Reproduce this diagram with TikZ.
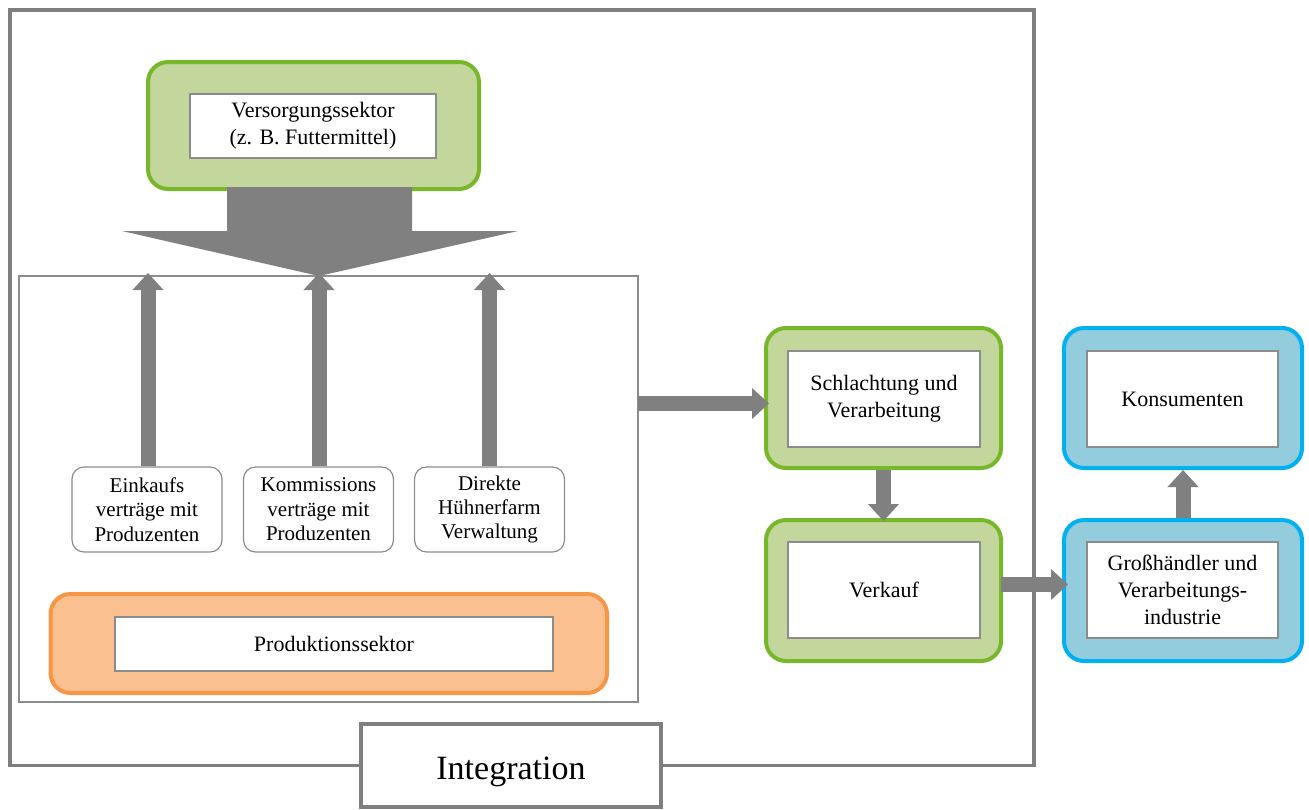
\documentclass[tikz,border=0pt]{standalone}
\usepackage{fontspec}
\setmainfont{Liberation Serif}
\usetikzlibrary{arrows.meta}
\definecolor{agray}{HTML}{808080}
\definecolor{frgray}{HTML}{7F7F7F}
\definecolor{lgray}{HTML}{8C8C8C}
\definecolor{gfill}{HTML}{C3D69B}
\definecolor{gline}{HTML}{77B82A}
\definecolor{ofill}{HTML}{FAC090}
\definecolor{oline}{HTML}{F79646}
\definecolor{bfill}{HTML}{93CDDD}
\definecolor{bline}{HTML}{00B0F0}
\begin{document}
\begin{tikzpicture}[x=0.5pt,y=-0.5pt,
  every node/.style={font=\fontsize{11}{13.5}\selectfont, inner sep=0pt, align=center},
  outerg/.style={draw=gline, fill=gfill, line width=2pt, rounded corners=10pt},
  outero/.style={draw=oline, fill=ofill, line width=2pt, rounded corners=10pt},
  outerb/.style={draw=bline, fill=bfill, line width=2pt, rounded corners=10pt},
  wbox/.style={draw=lgray, fill=white, line width=0.6pt},
  smallbox/.style={draw=lgray, fill=white, line width=0.6pt, rounded corners=6pt,
    minimum width=75pt, minimum height=42.5pt, font=\fontsize{10.5}{12.2}\selectfont},
  framel/.style={draw=frgray, line width=1.6pt},
  fatarrow/.style={draw=agray, line width=7.5pt, -{Triangle[width=15pt,length=8.5pt]}}
]
\useasboundingbox (0,0) rectangle (1309,809);

% Integration label box and outer frame
\node[draw=frgray, line width=1.6pt, fill=white, minimum width=150pt, minimum height=41.5pt,
  font=\fontsize{17}{20}\selectfont] (integ) at (511,765.5) {\raisebox{-7pt}[0pt][0pt]{Integration}};
\draw[framel] (integ.west) -- (10,765.5) -- (10,10) -- (1034,10) -- (1034,765.5) -- (integ.east);

% inner production area
\node[draw=lgray, line width=0.6pt, minimum width=309.5pt, minimum height=213pt] (area) at (328.5,489) {};

% Versorgungssektor
\node[outerg, minimum width=165.5pt, minimum height=63.5pt] (vo) at (313.5,125.5) {};
\node[wbox, minimum width=123pt, minimum height=32pt] (vs) at (313,126) {Versorgungssektor\\(z. B. Futtermittel)};
\fill[agray] (227,187) -- (412,187) -- (412,231) -- (518,231) -- (319,276) -- (122,231) -- (227,231) -- cycle;

% small boxes
\node[smallbox] (ek) at (147,509.5) {Einkaufs\\verträge mit\\Produzenten};
\node[smallbox] (ko) at (318.5,509.5) {Kommissions\\verträge mit\\Produzenten};
\node[smallbox] (di) at (489.5,509.5) {Direkte\\Hühnerfarm\\Verwaltung};
\coordinate (t1) at (148,273);
\coordinate (t2) at (319,273);
\coordinate (t3) at (489.5,273);
\draw[fatarrow] (ek.north -| t1) -- (t1);
\draw[fatarrow] (ko.north -| t2) -- (t2);
\draw[fatarrow] (di.north -| t3) -- (t3);

% Produktionssektor
\node[outero, minimum width=278.25pt, minimum height=49.5pt] (po) at (328.75,643.5) {};
\node[wbox, minimum width=219pt, minimum height=27pt] (ps) at (334,644) {Produktionssektor};

% right side
\node[outerg, minimum width=117.5pt, minimum height=70pt] (so) at (883.5,398) {};
\node[wbox, minimum width=96pt, minimum height=48pt] (sc) at (884,399) {Schlachtung und\\Verarbeitung};
\node[outerg, minimum width=117.5pt, minimum height=70.5pt] (vko) at (883.5,590.5) {};
\node[wbox, minimum width=96pt, minimum height=48pt] (vk) at (884,590) {Verkauf};
\node[outerb, minimum width=119pt, minimum height=70pt] (kno) at (1183,398) {};
\node[wbox, minimum width=95.5pt, minimum height=48pt] (kn) at (1182.5,399) {Konsumenten};
\node[outerb, minimum width=119pt, minimum height=70.5pt] (gho) at (1183,590.5) {};
\node[wbox, minimum width=95.5pt, minimum height=48pt] (gh) at (1182.5,590) {Großhändler und\\Verarbeitungs-\\industrie};

% connectors
\coordinate (a1) at (638,403.5);
\draw[fatarrow] (a1) -- ([xshift=2.5pt]so.west |- a1);
\draw[fatarrow] (so.south) -- ([yshift=-1.5pt]vko.north);
\coordinate (a2) at (1001,584.5);
\coordinate (a3) at (1068,584.5);
\draw[fatarrow] (a2) -- (a3);
\draw[fatarrow] (gho.north) -- (kno.south);
\end{tikzpicture}
\end{document}
